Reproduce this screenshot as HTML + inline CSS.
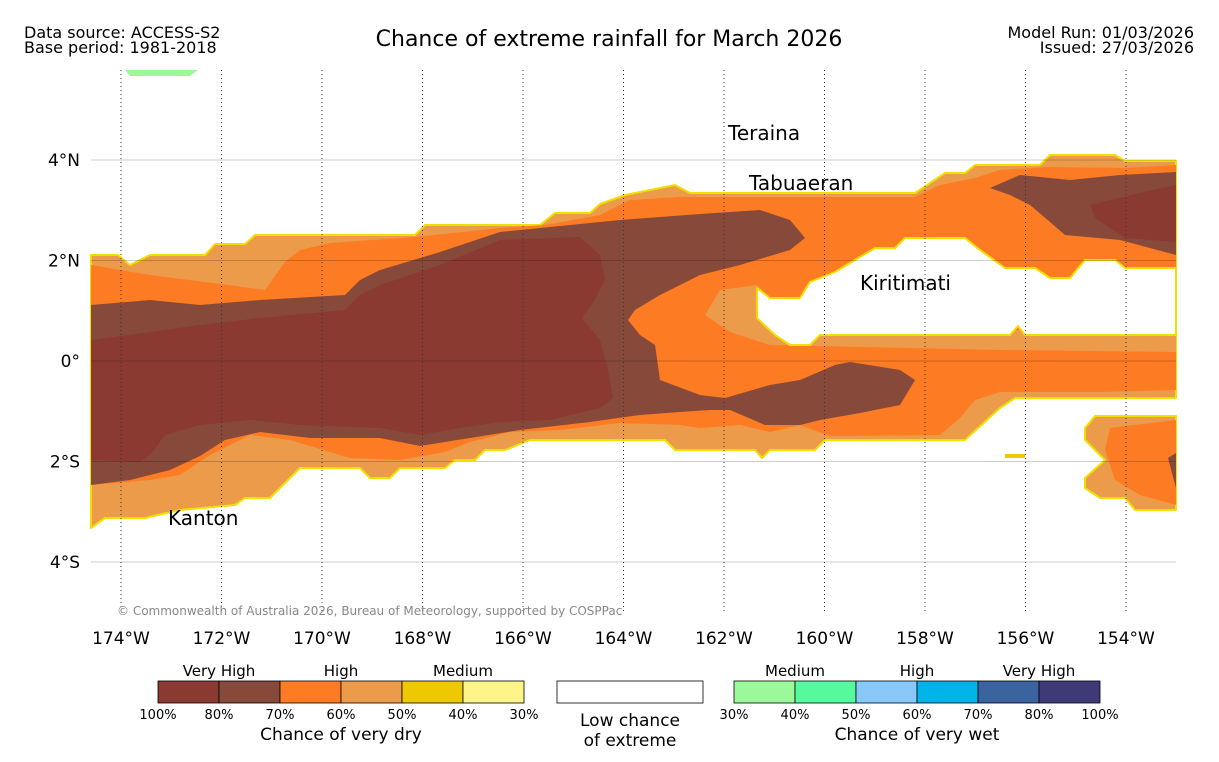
<!DOCTYPE html>
<html><head><meta charset="utf-8"><style>
body{margin:0;background:#fff;font-family:"DejaVu Sans",sans-serif}
svg text{font-family:"DejaVu Sans",sans-serif}
</style></head><body>
<svg id="s" width="1219" height="758" xmlns="http://www.w3.org/2000/svg">
<rect width="1219" height="758" fill="#fff"/>
<text x="24" y="38" font-size="16">Data source: ACCESS-S2</text>
<text x="24" y="53" font-size="16">Base period: 1981-2018</text>
<text x="609" y="46" font-size="22" text-anchor="middle">Chance of extreme rainfall for March 2026</text>
<text x="1194" y="38" font-size="16" text-anchor="end">Model Run: 01/03/2026</text>
<text x="1194" y="53" font-size="16" text-anchor="end">Issued: 27/03/2026</text>
<g id="map"></g>
<g id="grid"></g>
<g id="labels">
<text x="728" y="140" font-size="20">Teraina</text>
<text x="749" y="190" font-size="20">Tabuaeran</text>
<text x="860" y="290" font-size="20">Kiritimati</text>
<text x="168" y="525" font-size="20">Kanton</text>
<text x="117" y="615" font-size="12" fill="#888">© Commonwealth of Australia 2026, Bureau of Meteorology, supported by COSPPac</text>
</g>
<g id="axes"></g>
<g id="legend"></g>
</svg>
<script>
const lonTicks=[-174,-172,-170,-168,-166,-164,-162,-160,-158,-156,-154];
const latTicks=[4,2,0,-2,-4];
const latLabels=["4°N","2°N","0°","2°S","4°S"];
const dryColors=["#8a3a30","#874a3a","#fd7b22","#ec9b4a","#eec800","#fef58a"];
const dryLabels=["100%","80%","70%","60%","50%","40%","30%"];
const wetColors=["#9cf99a","#55f99e","#87c8f9","#00b4ea","#3a63a0","#3e3a78"];
const wetLabels=["30%","40%","50%","60%","70%","80%","100%"];
const P=(a)=>a.map(p=>[-174+(p[0]-121)/50.25,(361-p[1])/50.25]);
const outerBand=P([[91,255],[118,255],[130,265],[150,255],[205,255],[215,244],[245,244],[255,235],[415,235],[425,225],[540,225],[555,213],[590,213],[600,204],[625,195],[675,185],[690,193],[915,193],[930,183],[945,173],[965,173],[975,165],[1040,165],[1050,155],[1115,155],[1125,161],[1176,161],[1176,398],[1015,398],[1000,408],[965,440],[825,440],[815,450],[770,450],[762,458],[755,450],[675,450],[665,440],[530,440],[505,450],[485,450],[475,460],[455,460],[445,468],[400,468],[390,478],[370,478],[360,468],[300,468],[270,498],[245,498],[235,505],[180,510],[145,518],[105,518],[91,528]]);
const seOuter=P([[1095,416],[1176,416],[1176,510],[1135,510],[1125,498],[1100,498],[1085,488],[1085,478],[1105,460],[1085,440],[1085,428]]);
const orangeBand=P([[91,265],[150,275],[205,282],[265,290],[285,262],[300,250],[330,243],[415,237],[500,228],[545,225],[600,215],[630,200],[680,197],[915,197],[940,185],[975,178],[1000,170],[1050,167],[1125,168],[1176,165],[1176,390],[1100,392],[1000,392],[975,400],[960,418],[940,435],[830,436],[800,425],[770,432],[740,425],[700,428],[680,425],[620,423],[560,430],[510,432],[470,442],[445,452],[400,460],[350,458],[290,440],[250,435],[210,455],[180,475],[150,480],[91,485]]);
const seOrange=P([[1110,428],[1176,420],[1176,505],[1140,495],[1115,480],[1105,450]]);
const ring=P([[757,285],[720,290],[705,315],[730,332],[770,345],[1000,350],[1176,352],[1176,330],[800,330]]);
const hole=P([[757,288],[770,298],[800,298],[810,282],[835,272],[855,260],[875,248],[895,248],[905,238],[965,238],[980,250],[1005,268],[1035,268],[1050,278],[1070,278],[1085,260],[1115,260],[1125,268],[1176,268],[1176,335],[1025,335],[1018,326],[1010,335],[820,335],[810,345],[790,345],[775,335],[757,318]]);
const brown=P([[91,305],[150,300],[200,305],[260,300],[345,295],[360,280],[380,270],[440,252],[500,232],[560,226],[620,220],[700,214],[760,210],[790,220],[805,238],[790,250],[740,265],[700,275],[660,295],[635,310],[628,320],[640,335],[655,345],[660,380],[700,395],[725,398],[770,385],[800,380],[835,365],[850,362],[900,370],[915,380],[900,405],[860,413],[820,420],[800,425],[765,425],[730,410],[710,410],[680,412],[640,415],[590,422],[520,430],[470,438],[420,446],[380,438],[310,438],[260,432],[225,440],[200,456],[170,470],[130,480],[91,485]]);
const brownNE=P([[990,188],[1020,175],[1070,180],[1120,175],[1176,172],[1176,255],[1120,240],[1065,235],[1050,222],[1030,205],[1010,195]]);
const brownSE=P([[1168,458],[1176,453],[1176,488]]);
const brownSliver=P([[620,237],[660,235],[685,237],[715,232],[740,236],[715,243],[685,240],[660,239]]);
const red=P([[91,340],[150,332],[200,325],[260,318],[345,310],[360,295],[380,285],[440,265],[500,240],[580,237],[600,255],[605,280],[595,300],[582,318],[600,340],[608,370],[613,398],[600,408],[550,420],[500,422],[460,428],[420,435],[380,428],[300,425],[250,420],[200,425],[165,435],[150,455],[140,462],[91,460]]);
const redNE=P([[1090,205],[1130,195],[1176,185],[1176,242],[1125,238],[1095,218]]);
const greenBlob=P([[125,70],[198,70],[190,76],[130,76]]);

const X=lon=>121+(lon+174)*50.25, Y=lat=>361-lat*50.25;
const NS='http://www.w3.org/2000/svg';
function mk(t,a,parent){const e=document.createElementNS(NS,t);for(const k in a)e.setAttribute(k,a[k]);parent.appendChild(e);return e;}
const map=document.getElementById('map');
function poly(pts,fill,stroke,name){
  const e=mk('polygon',{points:pts.map(p=>X(p[0]).toFixed(1)+','+Y(p[1]).toFixed(1)).join(' '),fill:fill,stroke:stroke||'none','stroke-width':stroke?2:0,'stroke-linejoin':'round'},map);
  
  
}
poly(greenBlob,"#9cf99a",null,"wet-medium-region");
poly(outerBand,"#ec9b4a","#f0e000","dry-medium-band");
poly(seOuter,"#ec9b4a","#f0e000","dry-medium-se");
poly(orangeBand,"#fd7b22",null,"dry-high-band");
poly(seOrange,"#fd7b22",null,"dry-high-se");
poly(ring,"#ec9b4a",null,"dry-medium-ring");
poly(hole,"#ffffff","#f0e000","low-chance-region");
poly(brown,"#874a3a",null,"dry-very-high-band");
poly(brownNE,"#874a3a",null,"dry-very-high-ne");
poly(brownSE,"#874a3a",null,"dry-very-high-se");
poly(brownSliver,"#874a3a",null,"dry-very-high-sliver");
poly(red,"#8a3a30",null,"dry-extreme-band");
poly(redNE,"#8a3a30",null,"dry-extreme-ne");
const y1=mk('rect',{x:1005,y:454,width:20,height:4,fill:'#eec800'},map);



const grid=document.getElementById('grid'), axes=document.getElementById('axes');
lonTicks.forEach((v,i)=>{
  const l=mk('line',{x1:X(v),x2:X(v),y1:70,y2:612,stroke:'#333','stroke-width':1,'stroke-dasharray':'1,3'},grid);
  
  
  const t=mk('text',{x:X(v),y:644,'font-size':17,'text-anchor':'middle'},axes);
  t.textContent=Math.abs(v)+'°W';
  
  
});
latTicks.forEach((v,i)=>{
  const l=mk('line',{x1:91,x2:1176,y1:Y(v),y2:Y(v),stroke:'rgba(0,0,0,0.2)','stroke-width':1},grid);
  
  
  const t=mk('text',{x:80,y:Y(v)+6,'font-size':17,'text-anchor':'end'},axes);
  t.textContent=latLabels[i];
  
  
});

const lg=document.getElementById('legend');
function bar(x0,colors,labels,name){
  colors.forEach((c,i)=>{
    const r=mk('rect',{x:x0+i*61,y:681,width:61,height:22,fill:c,stroke:'#000','stroke-width':0.8},lg);
    
    
  });
  labels.forEach((s,i)=>{
    const t=mk('text',{x:x0+i*61,y:719,'font-size':13,'text-anchor':'middle'},lg);
    t.textContent=s;
    
    
  });
}
bar(158,dryColors,dryLabels,'dry-legend');
bar(734,wetColors,wetLabels,'wet-legend');
const wb=mk('rect',{x:557,y:681,width:146,height:22,fill:'#fff',stroke:'#000','stroke-width':0.8},lg);


[["Very High",219,676],["High",341,676],["Medium",463,676],["Medium",795,676],["High",917,676],["Very High",1039,676],
 ["Chance of very dry",341,740],["Chance of very wet",917,740],["Low chance",630,726],["of extreme",630,746]].forEach(a=>{
  const t=mk('text',{x:a[1],y:a[2],'font-size':a[2]>720?17:15,'text-anchor':'middle'},lg);
  t.textContent=a[0];
  
  
});
</script>
</body></html>
